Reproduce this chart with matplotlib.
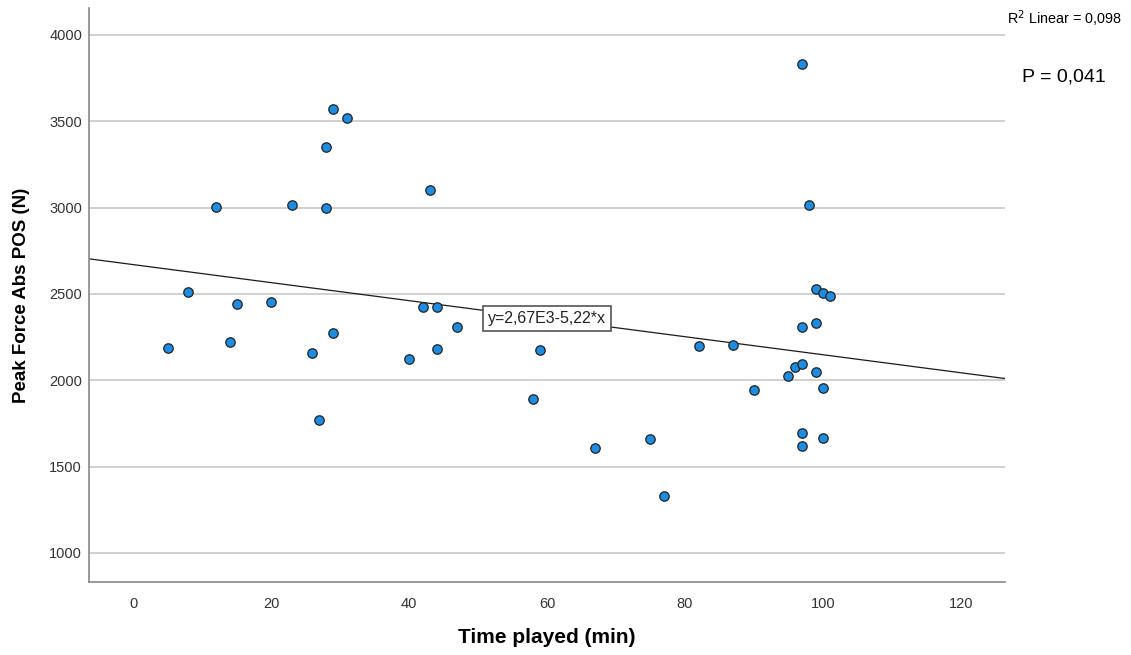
import numpy as np
import matplotlib
matplotlib.use("Agg")
import matplotlib.pyplot as plt

plt.rcParams["font.family"] = ["Liberation Sans", "DejaVu Sans"]

# Time played (min) vs. peak absolute force (N)
time_played = [5, 8, 12, 14, 15, 20, 23, 26, 27, 28, 28, 29, 29, 31, 40, 42, 43, 44,
               44, 47, 58, 59, 67, 75, 77, 82, 87, 90, 95, 96, 97, 97, 97, 97, 97,
               98, 99, 99, 99, 100, 100, 100, 101]
peak_force = [2187, 2512, 3002, 2220, 2444, 2451, 3013, 2156, 1768, 3352, 3000, 3572,
              2272, 3518, 2121, 2426, 3104, 2422, 2183, 2311, 1889, 2177, 1610, 1660,
              1330, 2199, 2206, 1941, 2027, 2079, 3830, 2307, 2093, 1696, 1621, 3013,
              2529, 2334, 2048, 2503, 1957, 1666, 2486]

# fit line reported by the stats package
intercept = 2670
slope = -5.22
fit_label = "y=2,67E3-5,22*x"
r2_label = "R$^2$ Linear = 0,098"
p_label = "P = 0,041"

x_ticks = [0, 20, 40, 60, 80, 100, 120]
y_ticks = [1000, 1500, 2000, 2500, 3000, 3500, 4000]

fig = plt.figure(figsize=(11.31, 6.55), dpi=100)
ax = fig.add_axes([0.0787, 0.1115, 0.8099, 0.8763])

xmin, xmax = -6.4, 126.4
ax.set_xlim(xmin, xmax)
ax.set_ylim(832, 4156)

for y in y_ticks:
    ax.axhline(y, color="#c8c8c8", linewidth=1.2, zorder=0)

xs = np.array([xmin, xmax])
ax.plot(xs, intercept + slope * xs, color="#1a1a1a", linewidth=0.9, zorder=2)

ax.scatter(time_played, peak_force, s=46, color="#1e8ce0", edgecolor="#222222",
           linewidth=0.9, zorder=3)

ax.text(60, intercept + slope * 60, fit_label, ha="center", va="center",
        fontsize=11.5, color="#222222", zorder=4,
        bbox=dict(boxstyle="square,pad=0.3", facecolor="white",
                  edgecolor="#555555", linewidth=1.2))

for side in ("top", "right"):
    ax.spines[side].set_visible(False)
for side in ("left", "bottom"):
    ax.spines[side].set_color("#888888")
    ax.spines[side].set_linewidth(1.2)

ax.set_xticks(x_ticks)
ax.set_yticks(y_ticks)
ax.tick_params(length=0, colors="#333333")
ax.tick_params(axis="y", labelsize=10.5, pad=5)
ax.tick_params(axis="x", labelsize=10.5, pad=11)

ax.set_xlabel("Time played (min)", fontsize=15, fontweight="bold", labelpad=12)
ax.set_ylabel("Peak Force Abs POS (N)", fontsize=13.5, fontweight="bold", labelpad=14)

fig.text(1007 / 1131, 1 - 19 / 655, r2_label, fontsize=10.4, ha="left", va="center")
fig.text(1022 / 1131, 1 - 77 / 655, p_label, fontsize=14, ha="left", va="center")

fig.savefig("out.png", dpi=100)
